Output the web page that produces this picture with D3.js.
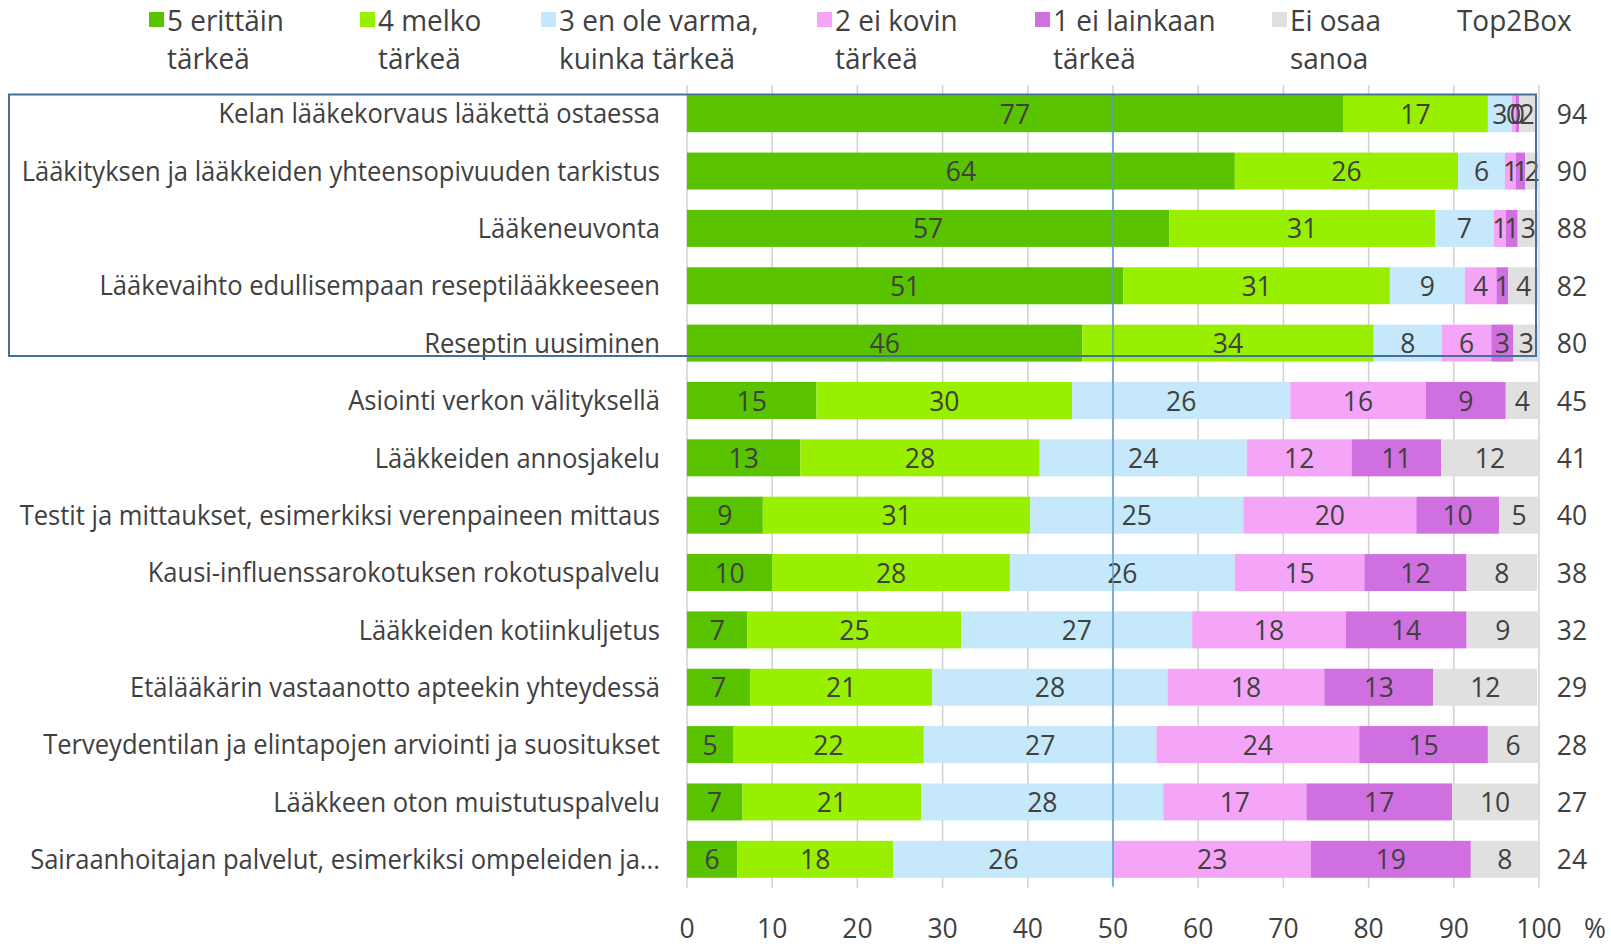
<!DOCTYPE html>
<html>
<head>
<meta charset="utf-8">
<script src="https://cdn.jsdelivr.net/npm/d3@7"></script>
<style>
  body { margin: 0; background: #fff; }
  text { font-family: "Open Sans", sans-serif; fill: #404040; }
</style>
</head>
<body>
<script>
// chart size
var svgWidth = 1611;
var svgHeight = 946;

// data
var categories = [
    "Kelan lääkekorvaus lääkettä ostaessa",
    "Lääkityksen ja lääkkeiden yhteensopivuuden tarkistus",
    "Lääkeneuvonta",
    "Lääkevaihto edullisempaan reseptilääkkeeseen",
    "Reseptin uusiminen",
    "Asiointi verkon välityksellä",
    "Lääkkeiden annosjakelu",
    "Testit ja mittaukset, esimerkiksi verenpaineen mittaus",
    "Kausi-influenssarokotuksen rokotuspalvelu",
    "Lääkkeiden kotiinkuljetus",
    "Etälääkärin vastaanotto apteekin yhteydessä",
    "Terveydentilan ja elintapojen arviointi ja suositukset",
    "Lääkkeen oton muistutuspalvelu",
    "Sairaanhoitajan palvelut, esimerkiksi ompeleiden ja..."
];
var seriesNames = ["5 erittäin|tärkeä", "4 melko|tärkeä", "3 en ole varma,|kuinka tärkeä",
                   "2 ei kovin|tärkeä", "1 ei lainkaan|tärkeä", "Ei osaa|sanoa"];
var erittain   = [77, 64.3, 56.6, 51.2, 46.4, 15.2, 13.3, 8.9, 10, 7.1, 7.4, 5.4, 6.5, 5.9];
var melko      = [17, 26.2, 31.2, 31.3, 34.2, 30, 28.1, 31.4, 27.9, 25.1, 21.4, 22.4, 21, 18.3];
var eiVarma    = [2.8, 5.5, 6.9, 8.8, 8, 25.6, 24.3, 25, 26.4, 27.1, 27.6, 27.3, 28.4, 25.9];
var eiKovin    = [0.45, 1.3, 1.4, 3.7, 5.8, 15.9, 12.3, 20.3, 15.2, 18, 18.4, 23.8, 16.8, 23.1];
var eiLainkaan = [0.4, 1.1, 1.4, 1.4, 2.6, 9.4, 10.5, 9.7, 12, 14.2, 12.8, 15.1, 17.1, 18.8];
var eiOsaa     = [1.9, 1.6, 2.5, 3.6, 3, 3.9, 11.5, 4.7, 8.3, 8.5, 12.2, 5.9, 10.1, 8];
var top2box    = [94, 90, 88, 82, 80, 45, 41, 40, 38, 32, 29, 28, 27, 24];
var xTicks = [0, 10, 20, 30, 40, 50, 60, 70, 80, 90, 100];

var colors = ["#5ac300", "#99ef00", "#c5e8fb", "#f4a5f8", "#d070e0", "#e0e0e0"];
var series = [erittain, melko, eiVarma, eiKovin, eiLainkaan, eiOsaa];

var labelSize = 27;
var numberSize = 28;
var legendSize = 29.5;
var squeeze = 0.946;   // text in the original is narrower than Open Sans

var svg = d3.select("body")
    .append("svg")
    .attr("width", svgWidth)
    .attr("height", svgHeight);

// scales
var xScale = d3.scaleLinear()
    .domain([0, 100])
    .range([687, 1539]);

var yScale = d3.scaleBand()
    .domain(categories)
    .range([85, 888])
    .paddingInner(0.355)
    .paddingOuter(0.178);

// condense a text element horizontally
function condense(sel) {
    sel.each(function() {
        var len = this.getComputedTextLength();
        d3.select(this)
            .attr("textLength", len * squeeze)
            .attr("lengthAdjust", "spacingAndGlyphs");
    });
}

// gridlines
svg.append("g")
    .attr("class", "grid")
    .selectAll("line")
    .data(xTicks)
    .enter()
    .append("line")
    .attr("x1", d => xScale(d))
    .attr("x2", d => xScale(d))
    .attr("y1", 85)
    .attr("y2", 888)
    .attr("stroke", "#d0d0d0")
    .attr("stroke-width", 1.5);

// stacked rows
var rows = categories.map(function(c, i) {
    var start = 0;
    return series.map(function(s, k) {
        var seg = { cat: c, k: k, x0: start, v: s[i] };
        start += s[i];
        return seg;
    });
});

var rowG = svg.append("g")
    .selectAll("g")
    .data(rows)
    .enter()
    .append("g");

rowG.selectAll("rect")
    .data(d => d)
    .enter()
    .append("rect")
    .attr("x", d => xScale(d.x0))
    .attr("y", d => yScale(d.cat))
    .attr("width", d => xScale(d.x0 + d.v) - xScale(d.x0))
    .attr("height", yScale.bandwidth())
    .attr("fill", d => colors[d.k]);

rowG.selectAll("text")
    .data(d => d)
    .enter()
    .append("text")
    .attr("x", d => xScale(d.x0 + d.v / 2))
    .attr("y", d => yScale(d.cat) + yScale.bandwidth() / 2)
    .attr("dy", "0.36em")
    .attr("text-anchor", "middle")
    .style("font-size", numberSize + "px")
    .text(d => Math.round(d.v))
    .call(condense);

// category labels
svg.append("g")
    .selectAll("text")
    .data(categories)
    .enter()
    .append("text")
    .attr("x", 660)
    .attr("y", d => yScale(d) + yScale.bandwidth() / 2)
    .attr("dy", "0.36em")
    .attr("text-anchor", "end")
    .style("font-size", labelSize + "px")
    .text(d => d)
    .call(condense);

// top2box column
svg.append("g")
    .selectAll("text")
    .data(top2box)
    .enter()
    .append("text")
    .attr("x", 1572)
    .attr("y", (d, i) => yScale(categories[i]) + yScale.bandwidth() / 2)
    .attr("dy", "0.36em")
    .attr("text-anchor", "middle")
    .style("font-size", numberSize + "px")
    .text(d => d)
    .call(condense);

// x axis labels
svg.append("g")
    .selectAll("text")
    .data(xTicks)
    .enter()
    .append("text")
    .attr("x", d => xScale(d))
    .attr("y", 928)
    .attr("dy", "0.36em")
    .attr("text-anchor", "middle")
    .style("font-size", numberSize + "px")
    .text(d => d)
    .call(condense);

svg.append("text")
    .attr("x", 1595)
    .attr("y", 928)
    .attr("dy", "0.36em")
    .attr("text-anchor", "middle")
    .style("font-size", numberSize + "px")
    .text("%")
    .call(condense);

// 50 % reference line
svg.append("line")
    .attr("x1", xScale(50))
    .attr("x2", xScale(50))
    .attr("y1", 94)
    .attr("y2", 886)
    .attr("stroke", "#5b9bd5")
    .attr("stroke-width", 1.5);

// highlight box around top five
svg.append("rect")
    .attr("x", 9)
    .attr("y", 94.5)
    .attr("width", 1536 - 9)
    .attr("height", 356 - 94.5)
    .attr("fill", "none")
    .attr("stroke", "#44709a")
    .attr("stroke-width", 2);

// legend
var legendX = [149, 360, 541, 817, 1035, 1272];
var legend = svg.append("g")
    .selectAll("g")
    .data(seriesNames)
    .enter()
    .append("g");

legend.append("rect")
    .attr("x", (d, i) => legendX[i])
    .attr("y", 12)
    .attr("width", 15)
    .attr("height", 15)
    .attr("fill", (d, i) => colors[i]);

legend.append("text")
    .attr("x", (d, i) => legendX[i] + 18)
    .attr("y", 20)
    .attr("dy", "0.36em")
    .style("font-size", legendSize + "px")
    .text(d => d.split("|")[0])
    .call(condense);

legend.append("text")
    .attr("x", (d, i) => legendX[i] + 18)
    .attr("y", 58)
    .attr("dy", "0.36em")
    .style("font-size", legendSize + "px")
    .text(d => d.split("|")[1])
    .call(condense);

svg.append("text")
    .attr("x", 1457)
    .attr("y", 20)
    .attr("dy", "0.36em")
    .style("font-size", legendSize + "px")
    .text("Top2Box")
    .call(condense);
</script>
</body>
</html>
